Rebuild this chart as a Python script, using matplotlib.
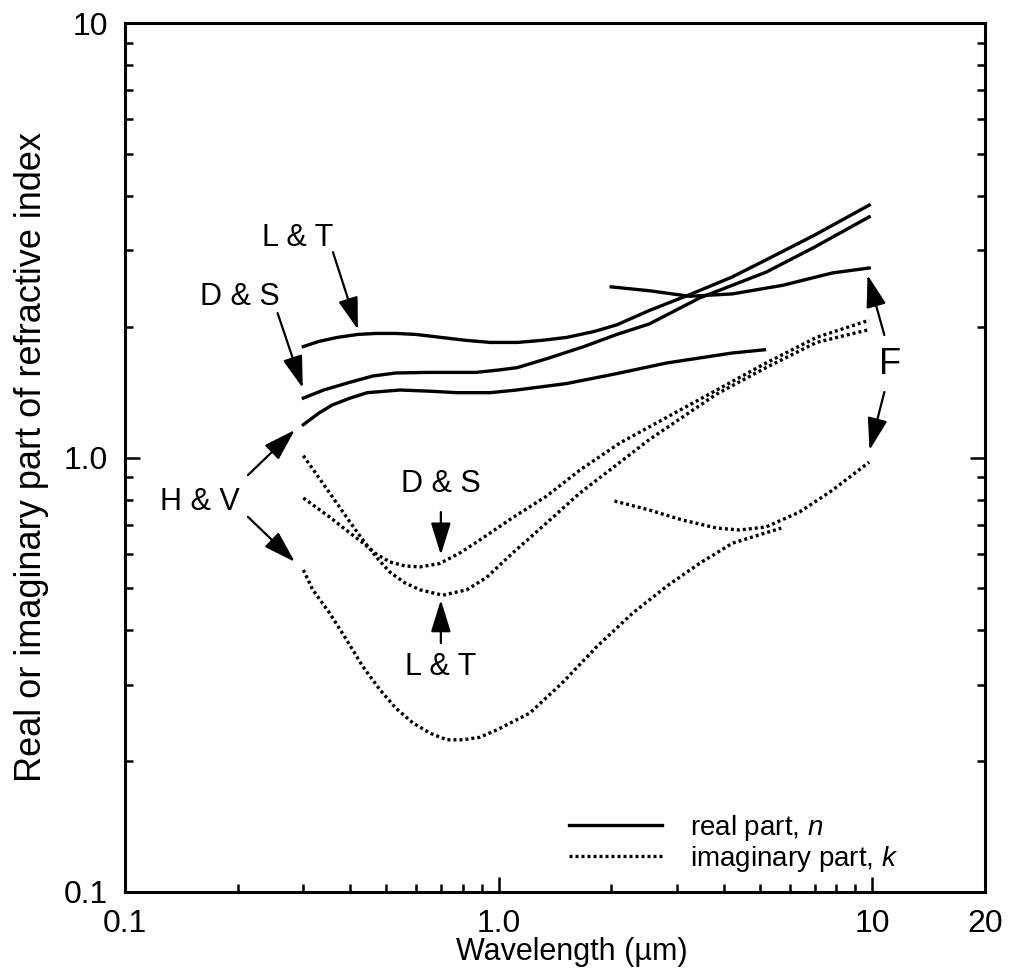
import numpy as np
import matplotlib
matplotlib.use("Agg")
import matplotlib.pyplot as plt
from matplotlib.ticker import NullFormatter, FixedLocator

plt.rcParams['font.family'] = ['Liberation Sans', 'DejaVu Sans']
plt.rcParams['mathtext.fontset'] = 'custom'
plt.rcParams['mathtext.rm'] = 'Liberation Sans'
plt.rcParams['mathtext.it'] = 'Liberation Sans:italic'

# --------------------------------------------------------------------------- #
#  Data                                                 #
# --------------------------------------------------------------------------- #

# real part n
wl_lt_n = [0.30, 0.33, 0.37, 0.42, 0.47, 0.53, 0.60, 0.70, 0.82, 0.95, 1.12,
           1.30, 1.52, 1.80, 2.07, 2.53, 3.24, 4.2, 5.19, 7.0, 9.8]
n_lt    = [1.80, 1.85, 1.89, 1.92, 1.93, 1.93, 1.92, 1.89, 1.86, 1.84, 1.84,
           1.86, 1.89, 1.95, 2.02, 2.18, 2.37, 2.60, 2.85, 3.25, 3.81]

wl_ds_n = [0.30, 0.34, 0.40, 0.46, 0.53, 0.65, 0.80, 0.87, 1.0, 1.12, 1.35,
           1.69, 2.07, 2.53, 3.45, 5.19, 7.0, 9.8]
n_ds    = [1.37, 1.43, 1.49, 1.54, 1.565, 1.57, 1.57, 1.57, 1.59, 1.61, 1.69,
           1.80, 1.92, 2.03, 2.33, 2.67, 3.05, 3.58]

wl_hv_n = [0.30, 0.33, 0.358, 0.40, 0.445, 0.544, 0.666, 0.772, 0.95, 1.117,
           1.52, 2.07, 2.81, 4.22, 5.14]
n_hv    = [1.19, 1.265, 1.32, 1.37, 1.41, 1.43, 1.42, 1.41, 1.41, 1.43,
           1.48, 1.56, 1.65, 1.74, 1.77]

wl_f_n  = [2.0, 2.53, 3.24, 4.22, 5.74, 7.82, 9.8]
n_f     = [2.47, 2.42, 2.35, 2.38, 2.49, 2.66, 2.73]

# imaginary part k
wl_ds_k = [0.30, 0.353, 0.40, 0.433, 0.47, 0.511, 0.56, 0.615, 0.695, 0.787,
           0.89, 1.09, 1.343, 1.647, 2.11, 3.83, 5.19, 7.08, 9.8]
k_ds    = [0.807, 0.729, 0.67, 0.636, 0.60, 0.575, 0.563, 0.56, 0.57, 0.603,
           0.646, 0.727, 0.815, 0.935, 1.08, 1.43, 1.65, 1.89, 2.07]

wl_lt_k = [0.30, 0.353, 0.40, 0.433, 0.47, 0.511, 0.56, 0.615, 0.708, 0.821,
           0.929, 1.09, 1.343, 1.647, 1.98, 2.53, 3.83, 5.19, 7.08, 9.8]
k_lt    = [1.01, 0.828, 0.71, 0.646, 0.59, 0.545, 0.515, 0.496, 0.482, 0.496,
           0.53, 0.603, 0.707, 0.828, 0.935, 1.10, 1.40, 1.61, 1.84, 1.97]

wl_hv_k = [0.30, 0.318, 0.353, 0.392, 0.433, 0.481, 0.53, 0.589, 0.655, 0.726,
           0.801, 0.89, 0.988, 1.21, 1.48, 1.83, 2.28, 2.81, 3.45, 4.22, 5.7]
k_hv    = [0.551, 0.496, 0.438, 0.38, 0.33, 0.292, 0.265, 0.245, 0.232, 0.224,
           0.224, 0.227, 0.236, 0.258, 0.303, 0.367, 0.438, 0.505, 0.571, 0.635,
           0.688]

wl_f_k  = [2.04, 2.53, 3.10, 3.83, 4.41, 5.19, 6.38, 7.82, 9.8]
k_f     = [0.794, 0.757, 0.718, 0.688, 0.681, 0.692, 0.749, 0.841, 0.976]

# labels: (text, text position, size, [(arrow tail, arrow head), ...])
labels = [
    ("L & T", (0.290, 3.20), 22, [((0.360, 2.97), (0.420, 1.97))]),
    ("D & S", (0.203, 2.34), 22, [((0.256, 2.15), (0.299, 1.445))]),
    ("H & V", (0.1586, 0.79), 22, [((0.2133, 0.911), (0.2847, 1.157)),
                                   ((0.2133, 0.730), (0.2847, 0.575))]),
    ("D & S", (0.700, 0.869), 22, [((0.700, 0.749), (0.700, 0.597))]),
    ("L & T", (0.700, 0.3295), 22, [((0.700, 0.374), (0.700, 0.470))]),
    ("F", (11.17, 1.633), 26, [((10.76, 1.914), (9.70, 2.63)),
                               ((10.76, 1.415), (9.82, 1.04))]),
]

# --------------------------------------------------------------------------- #
#  Figure                                                                     #
# --------------------------------------------------------------------------- #

fig = plt.figure(figsize=(10.09, 9.76), dpi=100)
ax = fig.add_axes([0.1239, 0.0861, 0.8523, 0.8903])

LW = 2.4
DOT = (0, (0.9, 0.9))

ax.plot(wl_lt_n, n_lt, color="black", lw=LW, label="real part, $n$")
ax.plot(wl_ds_n, n_ds, color="black", lw=LW)
ax.plot(wl_hv_n, n_hv, color="black", lw=LW)
ax.plot(wl_f_n, n_f, color="black", lw=LW)

ax.plot(wl_ds_k, k_ds, color="black", lw=LW, ls=DOT, label="imaginary part, $k$")
ax.plot(wl_lt_k, k_lt, color="black", lw=LW, ls=DOT)
ax.plot(wl_hv_k, k_hv, color="black", lw=LW, ls=DOT)
ax.plot(wl_f_k, k_f, color="black", lw=LW, ls=DOT)

for text, pos, size, arrows in labels:
    ax.text(pos[0], pos[1], text, fontsize=size, ha="center", va="center")
    for tail, head in arrows:
        ax.annotate("", xy=head, xytext=tail,
                    arrowprops=dict(arrowstyle="-|>,head_length=0.9,head_width=0.28",
                                    color="black", lw=1.6, mutation_scale=22,
                                    shrinkA=0, shrinkB=0))

ax.set_xscale("log")
ax.set_yscale("log")
ax.set_xlim(0.1, 20)
ax.set_ylim(0.1, 10)

ax.xaxis.set_major_locator(FixedLocator([0.1, 1, 10, 20]))
ax.set_xticklabels(["0.1", "1.0", "10", "20"])
ax.yaxis.set_major_locator(FixedLocator([0.1, 1, 10]))
ax.set_yticklabels(["0.1", "1.0", "10"])
minor = [0.2, 0.3, 0.4, 0.5, 0.6, 0.7, 0.8, 0.9, 2, 3, 4, 5, 6, 7, 8, 9]
ax.xaxis.set_minor_locator(FixedLocator(minor))
ax.yaxis.set_minor_locator(FixedLocator(minor))
ax.xaxis.set_minor_formatter(NullFormatter())
ax.yaxis.set_minor_formatter(NullFormatter())

ax.tick_params(which="both", direction="in", top=False, right=True,
               labelsize=23, width=1.8, pad=12)
ax.tick_params(which="major", length=11)
ax.tick_params(which="minor", length=6)
for sp in ax.spines.values():
    sp.set_linewidth(2.2)

ax.set_xlabel("Wavelength (\u00b5m)", fontsize=22)
ax.xaxis.set_label_coords(0.52, -0.052)
ax.set_ylabel("Real or imaginary part of refractive index", fontsize=26)
ax.yaxis.set_label_coords(-0.088, 0.5)

ax.legend(loc="lower left", bbox_to_anchor=(0.487, -0.008), frameon=False,
          fontsize=20, handlelength=3.35, handletextpad=1.0, labelspacing=0.05)

fig.savefig("out.png", dpi=100)
